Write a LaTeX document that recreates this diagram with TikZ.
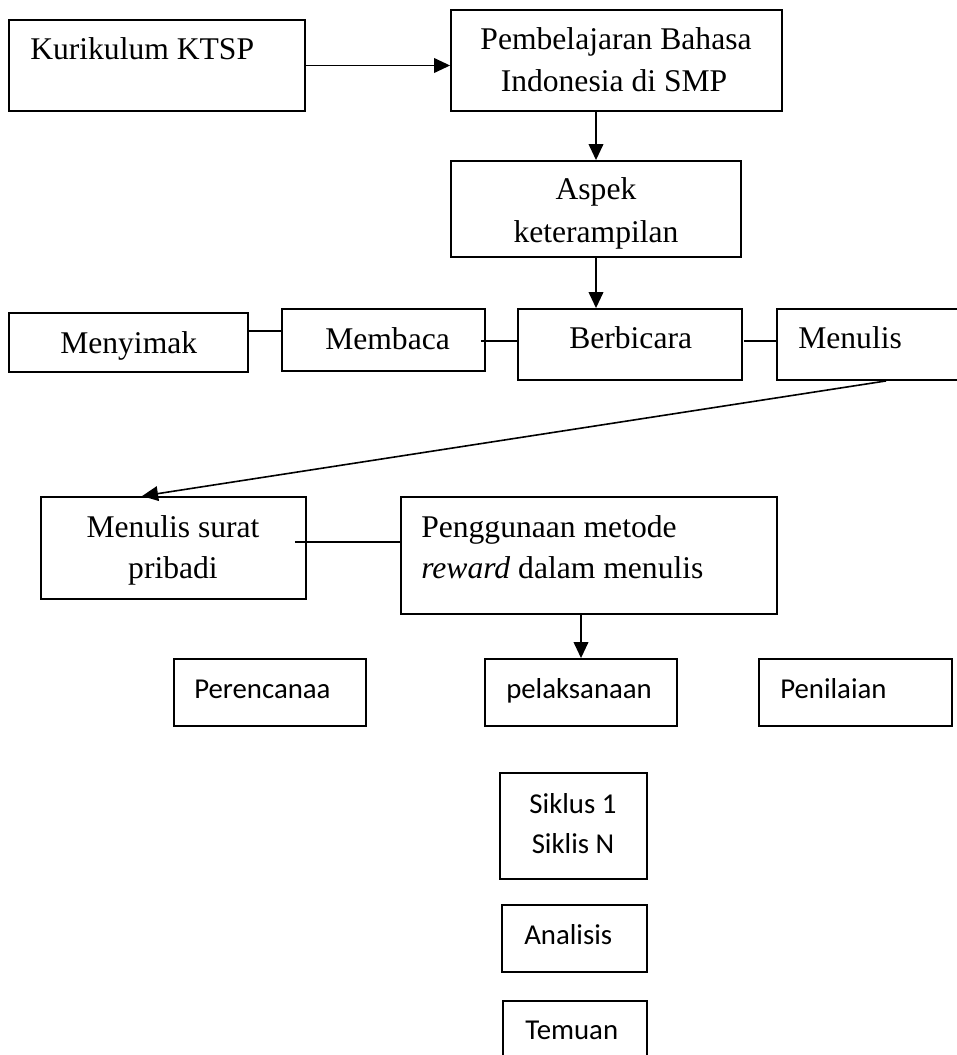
\documentclass[tikz,border=0pt]{standalone}
\usepackage{fontspec}
\setmainfont{Liberation Serif}
\newfontfamily\calibrifont{Carlito}
\usetikzlibrary{arrows.meta,fit,calc}
\begin{document}
\begin{tikzpicture}[x=0.75pt,y=-0.75pt,
  box/.style={draw,line width=1.4pt,inner sep=0pt},
  tnr/.style={font=\fontsize{23.7}{30}\selectfont,inner sep=0pt},
  cal/.style={font=\calibrifont\fontsize{21.6}{28}\selectfont,inner sep=0pt},
  conn/.style={line width=1.2pt},
  arr/.style={line width=1.2pt,-{Triangle[length=12pt,width=11pt]}}]
\useasboundingbox (0,0) rectangle (956,1055);
% boxes
\node[box,fit={(9,20) (305,111)}] (kur) {};
\node[box,fit={(451,10) (782,111)}] (pemb) {};
\node[box,fit={(451,161) (741,257)}] (asp) {};
\node[box,fit={(9,313) (248,372)}] (mys) {};
\node[box,fit={(282,309) (485,371)}] (mbc) {};
\node[box,fit={(518,309) (742,380)}] (bbc) {};
\node[box,fit={(777,309) (962,380)}] (mnl) {};
\node[box,fit={(41,497) (306,599)}] (msp) {};
\node[box,fit={(401,497) (777,614)}] (pgn) {};
\node[box,fit={(174,659) (366,726)}] (prc) {};
\node[box,fit={(485,659) (677,726)}] (plk) {};
\node[box,fit={(759,659) (952,726)}] (pnl) {};
\node[box,fit={(500,773) (647,879)}] (sik) {};
\node[box,fit={(502,905) (647,972)}] (ana) {};
\node[box,fit={(503,1001) (647,1062)}] (tem) {};
% texts
\node[tnr,anchor=base west] (tkur) at (30,60) {Kurikulum KTSP};
\node[tnr,anchor=base] (tpemb1) at (616,50) {Pembelajaran Bahasa};
\node[tnr,anchor=base] (tpemb2) at (614,92) {Indonesia di SMP};
\node[tnr,anchor=base] (tasp1) at (596,200) {Aspek};
\node[tnr,anchor=base] (tasp2) at (596,243) {keterampilan};
\node[tnr,anchor=base west] (tmys) at (60,353) {Menyimak};
\node[tnr,anchor=base west] (tmbc) at (325,349) {Membaca};
\node[tnr,anchor=base west] (tbbc) at (569,348) {Berbicara};
\node[tnr,anchor=base west] (tmnl) at (798,348) {Menulis};
\node[tnr,anchor=base] (tmsp1) at (173,537) {Menulis surat};
\node[tnr,anchor=base] (tmsp2) at (173,578) {pribadi};
\node[tnr,anchor=base west] (tpgn1) at (421,537) {Penggunaan metode};
\node[tnr,anchor=base west] (tpgn2) at (421,578) {\textit{reward} dalam menulis};
\node[cal,anchor=base west] (tprc) at (194,698) {Perencanaa};
\node[cal,anchor=base west] (tplk) at (506,698) {pelaksanaan};
\node[cal,anchor=base west] (tpnl) at (780,698) {Penilaian};
\node[cal,anchor=base] (tsik1) at (573,813) {Siklus 1};
\node[cal,anchor=base] (tsik2) at (573,853) {Siklis N};
\node[cal,anchor=base west] (tana) at (524,944) {Analisis};
\node[cal,anchor=base west] (ttem) at (525,1039) {Temuan};
% connector end points
\coordinate (c1) at ($(mys.east)+(0,-11.5)$);
\coordinate (c2) at ($(mbc.east)+(-5,1)$);
\coordinate (c3) at ($(bbc.east)+(1,-3.5)$);
\coordinate (c4) at ($(mnl.south west)+(110,0)$);
\coordinate (c5) at ($(msp.north west)+(102,0)$);
\coordinate (c6) at ($(msp.east)+(-12,-6)$);
% connectors
\draw[arr] (kur.east) -- (kur.east -| pemb.west);
\draw[arr] (asp.north |- pemb.south) -- (asp.north);
\draw[arr] (asp.south) -- (asp.south |- bbc.north);
\draw[conn] (c1) -- (c1 -| mbc.west);
\draw[conn] (c2) -- (c2 -| bbc.west);
\draw[conn] (c3) -- (c3 -| mnl.west);
\draw[arr] (c4) -- (c5);
\draw[conn] (c6) -- (c6 -| pgn.west);
\draw[arr] (pgn.south -| plk.north) -- (plk.north);
\end{tikzpicture}
\end{document}
